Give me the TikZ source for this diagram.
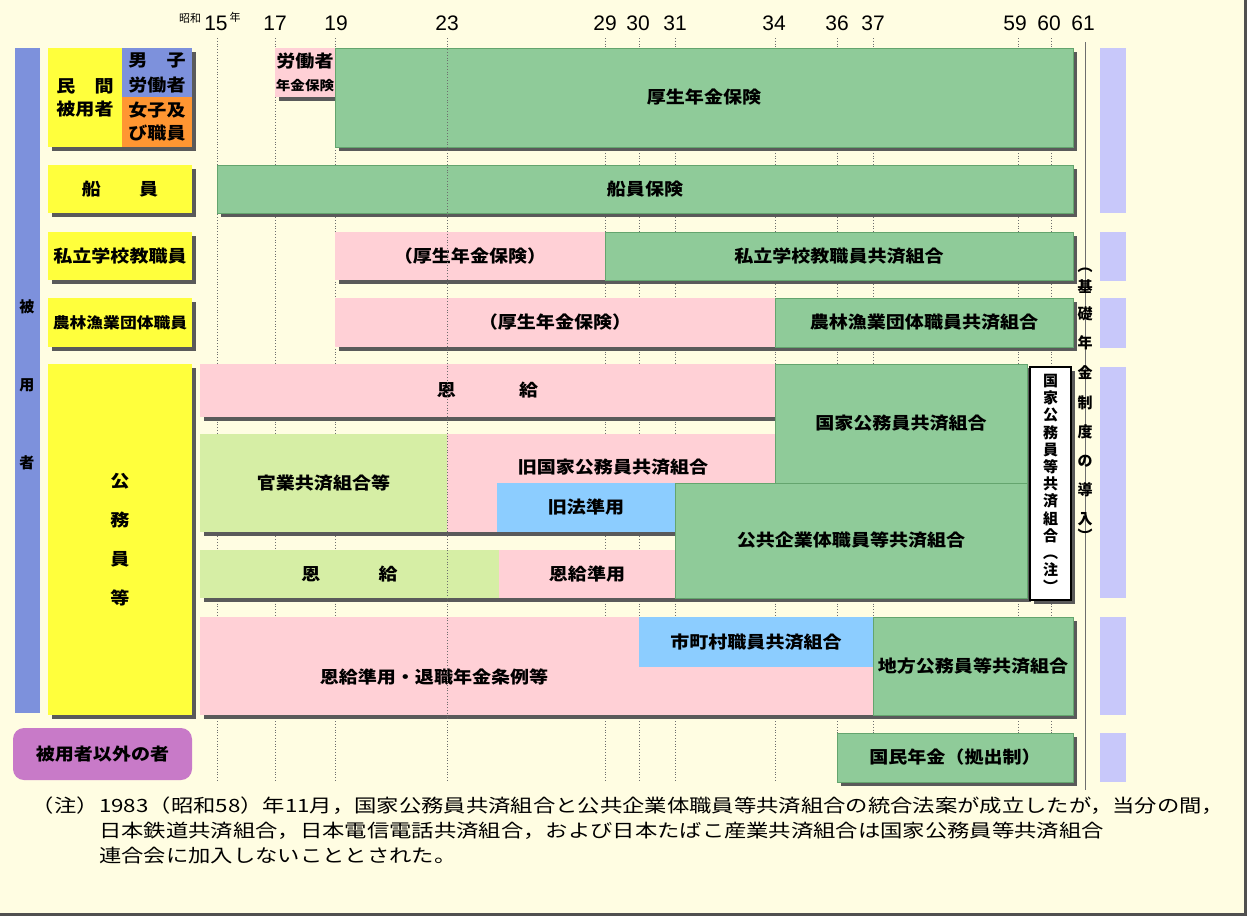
\documentclass[tikz,border=0pt]{standalone}
\usepackage{fontspec}
\setmainfont{Liberation Sans}
\newfontfamily\jpf[FakeStretch=1.12]{Noto Sans CJK JP}
\newfontfamily\jpnote[FakeStretch=1.22]{Noto Sans CJK JP}
\newfontfamily\jpplain{Noto Sans CJK JP}
\definecolor{bgc}{RGB}{255,253,226}
\definecolor{grn}{RGB}{143,203,153}
\definecolor{grnD}{RGB}{100,165,110}
\definecolor{pnk}{RGB}{255,208,214}
\definecolor{lgr}{RGB}{214,238,165}
\definecolor{sky}{RGB}{140,205,255}
\definecolor{ylw}{RGB}{255,255,60}
\definecolor{peri}{RGB}{125,145,220}
\definecolor{orng}{RGB}{255,150,50}
\definecolor{purp}{RGB}{200,122,200}
\definecolor{lav}{RGB}{200,200,250}
\definecolor{shdc}{RGB}{90,90,90}
\definecolor{gridc}{RGB}{110,110,110}
\definecolor{framec}{RGB}{80,80,80}
% box node from corner (x1,y1) to (x2,y2): style, name, x1, y1, x2, y2, text
\newcommand\mkbox[7]{%
  \pgfmathsetmacro\mkbw{#5-#3}\pgfmathsetmacro\mkbh{#6-#4}%
  \pgfmathsetmacro\mkbx{(#3+#5)/2}\pgfmathsetmacro\mkby{(#4+#6)/2}%
  \node[#1, minimum width=\mkbw pt, minimum height=\mkbh pt] (#2) at (\mkbx,\mkby) {#7};}
\begin{document}
\begin{tikzpicture}[x=1pt,y=-1pt,
  cell/.style={inner sep=0pt, outer sep=0pt, text=black, align=center,
    font=\jpf\bfseries\fontsize{17}{23}\selectfont},
  gbar/.style={cell, fill=grn, draw=grnD, line width=0.5pt},
  pbar/.style={cell, fill=pnk},
  lbar/.style={cell, fill=lgr},
  sbar/.style={cell, fill=sky},
  ybox/.style={cell, fill=ylw},
  wbox/.style={cell, fill=white, draw=black, line width=1.2pt},
  lab/.style={inner sep=0pt, outer sep=0pt, text=black, align=center,
    font=\jpf\bfseries\fontsize{17}{23}\selectfont},
  shd/.style={fill=shdc},
  grid/.style={draw=gridc, dotted, line width=0.8pt},
  yr/.style={inner sep=0pt, font=\fontsize{21}{24}\selectfont},
  small/.style={inner sep=0pt, font=\jpplain\fontsize{11}{12}\selectfont},
  note/.style={inner sep=0pt, font=\jpnote\fontsize{18.3}{22}\selectfont},
  vch/.style={inner sep=0pt, font=\jpplain\bfseries\fontsize{15}{15}\selectfont},
]
\useasboundingbox (0,0) rectangle (1247,916);
\fill[bgc] (0,0) rectangle (1247,916);
\fill[framec] (0,913) rectangle (1247,916);
\fill[framec] (1244,0) rectangle (1247,916);

% year scale
\node[small] (showa) at (190,18) {昭和};
\foreach \x/\t in {216/15,275/17,336/19,447/23,605/29,638/30,675/31,774/34,837/36,873/37,1015/59,1049/60,1083/61}
  \node[yr] (yr\t) at (\x,23) {\t};
\node[small] (nen) at (235,17) {年};
\foreach \x in {217,275,335,605,639,675,775,837,873,1018,1051}
  \draw[grid] (\x,38) -- (\x,782);
\draw[draw=gridc, line width=0.9pt] (1085,42) -- (1085,790);

% right lavender bars
\foreach \a/\b in {48/213,232/281,298/348,367/598,617/715,733/782}
  \fill[lav] (1100,\a) rectangle (1126,\b);

% left blue bar
\fill[peri] (15,48) rectangle (40,713);
\node[lab, font=\jpplain\bfseries\fontsize{15}{78}\selectfont] (hiyosha) at (27,385) {被\\用\\者};

% shadows
\foreach \a/\b/\c/\d in {48/48/192/147, 48/165/192/213, 48/232/192/280, 48/298/192/347, 48/364/192/715,
  275/48/335/97, 335/48/1073/147, 217/165/1073/213, 335/232/1073/280, 335/298/1073/347,
  200/364/775/417, 775/364/1027/483, 675/483/1027/598, 200/434/447/532, 447/434/777/483,
  447/483/497/532, 497/483/675/532, 200/550/499/598, 499/550/675/598, 1030/367/1071/600,
  200/617/873/715, 873/617/1073/715, 837/733/1073/782}
  \fill[shd] (\a+4,\b+4) rectangle (\c+4,\d+4);

% left category boxes
\mkbox{ybox}{minkan}{48}{48}{122}{147}{民　間\\被用者}
\mkbox{cell, fill=peri, font=\jpf\bfseries\fontsize{17}{25}\selectfont}{danshi}{122}{48}{192}{97}{男　子\\労働者}
\mkbox{cell, fill=orng}{joshi}{122}{97}{192}{147}{女子及\\び職員}
\mkbox{ybox}{senin}{48}{165}{192}{213}{船　　員}
\mkbox{ybox}{shiritsu}{48}{232}{192}{280}{私立学校教職員}
\mkbox{ybox, font=\jpf\bfseries\fontsize{15}{18}\selectfont}{norin}{48}{298}{192}{347}{農林漁業団体職員}
\mkbox{ybox, font=\jpf\bfseries\fontsize{17}{39}\selectfont}{komuin}{48}{364}{192}{715}{公\\務\\員\\等}
\mkbox{cell, fill=purp, rounded corners=11pt}{igai}{13}{728}{192}{780}{被用者以外の者}

% row 1
\mkbox{pbar}{rodosha}{275}{48}{335}{97}{労働者\\{\fontsize{13}{23}\selectfont 年金保険}}
\mkbox{gbar}{kosei}{335}{48}{1073}{147}{厚生年金保険}
% row 2
\mkbox{gbar}{senhoken}{217}{165}{1073}{213}{船員保険}
% row 3
\mkbox{pbar}{kosei3}{335}{232}{605}{280}{（厚生年金保険）}
\mkbox{gbar}{shigaku}{605}{232}{1073}{280}{私立学校教職員共済組合}
% row 4
\mkbox{pbar}{kosei4}{335}{298}{775}{347}{（厚生年金保険）}
\mkbox{gbar}{norinkyo}{775}{298}{1073}{347}{農林漁業団体職員共済組合}
% public servants
\mkbox{pbar}{onkyu1}{200}{364}{775}{417}{恩\hspace{63pt}給}
\mkbox{lbar}{kangyo}{200}{434}{447}{532}{官業共済組合等}
\mkbox{pbar}{kyukokka}{447}{434}{777}{483}{}
\fill[pnk] (447,482) rectangle (497,532);
\node[lab] (kyukokkaT) at (613,467) {旧国家公務員共済組合};
\mkbox{gbar}{kokka}{775}{364}{1027}{483}{国家公務員共済組合}
\mkbox{sbar}{kyuho}{497}{483}{675}{532}{旧法準用}
\mkbox{gbar}{kokyo}{675}{483}{1027}{598}{公共企業体職員等共済組合}
\mkbox{lbar}{onkyu2}{200}{550}{499}{598}{恩\hspace{58pt}給}
\mkbox{pbar}{onkyujun}{499}{550}{675}{598}{恩給準用}
\mkbox{wbox, font=\jpplain\bfseries\fontsize{15}{17.2}\selectfont}{kokkato}{1030}{367}{1071}{600}{国\\家\\公\\務\\員\\等\\共\\済\\組\\合\\︵\\注\\︶}
% local public servants
\mkbox{pbar}{taishoku}{200}{617}{873}{715}{}
\node[lab] (taishokuT) at (434,677) {恩給準用・退職年金条例等};
\mkbox{sbar}{shichoson}{639}{617}{873}{667}{市町村職員共済組合}
\mkbox{gbar}{chiho}{873}{617}{1073}{715}{地方公務員等共済組合}
% national pension
\mkbox{gbar}{kokumin}{837}{733}{1073}{782}{国民年金（拠出制）}

% year 23 line on top
\draw[grid] (447,38) -- (447,782);

% vertical note (basic pension)
\foreach \c/\y [count=\i] in {︵/270,基/287,礎/314,年/343,金/373,制/403,度/432,の/461,導/490,入/519,︶/535}
  \node[vch] (kiso\i) at (1085,\y) {\c};

% footnote
\node[note, anchor=east] (noteA) at (99,806) {（注）};
\node[note, anchor=west] (noteB) at (99,806) {1983（昭和58）年11月，国家公務員共済組合と公共企業体職員等共済組合の統合法案が成立したが，当分の間，};
\node[note, anchor=west] (noteC) at (99,831) {日本鉄道共済組合，日本電信電話共済組合，および日本たばこ産業共済組合は国家公務員等共済組合};
\node[note, anchor=west] (noteD) at (99,856) {連合会に加入しないこととされた。};
\end{tikzpicture}
\end{document}
